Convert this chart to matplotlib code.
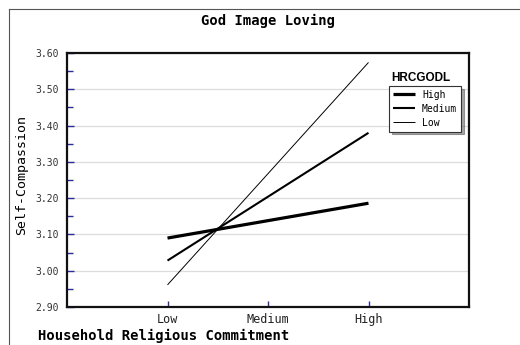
import numpy as np
import matplotlib.pyplot as plt
from matplotlib.lines import Line2D
from matplotlib.ticker import MultipleLocator

# x categories and the two measured points per group
levels = ['Low', 'Medium', 'High']
x_points = ['Low', 'High']
groups = ['High', 'Medium', 'Low']
high_vals = [3.090, 3.186]
medium_vals = [3.028, 3.380]
low_vals = [2.961, 3.574]
y_ticks = [2.90, 3.00, 3.10, 3.20, 3.30, 3.40, 3.50, 3.60]

mono = 'DejaVu Sans Mono'
tick_blue = '#2b2b9a'

fig = plt.figure(figsize=(5.2, 3.45), dpi=100)
ax = fig.add_axes([67 / 520, 1 - 307 / 345, 402 / 520, 254 / 345])

xpos = [levels.index(v) for v in x_points]
series = {'High': (high_vals, 2.3), 'Medium': (medium_vals, 1.5), 'Low': (low_vals, 0.7)}
for g in groups:
    vals, lw = series[g]
    ax.plot(xpos, vals, color='black', lw=lw, label=g, solid_capstyle='butt')

ax.set_xlim(-1, 3)
ax.set_ylim(2.90, 3.60)
ax.set_xticks(range(len(levels)))
ax.set_xticklabels(levels, fontfamily=mono, fontsize=8.5, color='#222222')
ax.set_yticks(y_ticks)
ax.set_yticklabels([f'{v:.2f}' for v in y_ticks], fontfamily=mono, fontsize=7, color='#333333')
ax.yaxis.set_minor_locator(MultipleLocator(0.05))
ax.tick_params(axis='both', which='both', direction='in', color=tick_blue, width=1)
ax.tick_params(axis='y', which='major', length=5, pad=6)
ax.tick_params(axis='y', which='minor', length=4)
ax.tick_params(axis='x', which='major', length=4, pad=4)
ax.grid(axis='y', color='#dcdcdc', lw=0.9)
ax.set_axisbelow(True)
for s in ax.spines.values():
    s.set_linewidth(1.6)
    s.set_color('#111111')

fig.text(268 / 520, 1 - 21 / 345, 'God Image Loving', ha='center', va='center',
         fontfamily=mono, fontweight='bold', fontsize=10)
fig.text(22 / 520, 1 - 175 / 345, 'Self-Compassion', ha='center', va='center',
         rotation=90, fontfamily=mono, fontsize=9.5)
fig.text(38 / 520, 1 - 336 / 345, 'Household Religious Commitment', ha='left', va='center',
         fontfamily=mono, fontweight='bold', fontsize=10)

# legend with its title drawn above the box
fig.text(421 / 520, 1 - 78 / 345, 'HRCGODL', ha='center', va='center',
         fontfamily='Liberation Sans', fontweight='bold', fontsize=8.5)
leg = ax.legend(loc='upper left', bbox_to_anchor=(389 / 520, 1 - 86 / 345),
                bbox_transform=fig.transFigure, frameon=True, shadow=True,
                fancybox=False, prop={'family': mono, 'size': 7},
                handlelength=2.3, handletextpad=0.7, labelspacing=0.4,
                borderpad=0.4, borderaxespad=0)
leg.get_frame().set_edgecolor('#333333')
leg.get_frame().set_linewidth(0.8)

# outer frame of the screenshot
fig.add_artist(Line2D([9 / 520, 9 / 520], [0, 1 - 9 / 345], transform=fig.transFigure,
                      color='#555555', lw=0.8))
fig.add_artist(Line2D([9 / 520, 1], [1 - 9 / 345, 1 - 9 / 345], transform=fig.transFigure,
                      color='#555555', lw=0.8))

fig.savefig('out.png', dpi=100)
